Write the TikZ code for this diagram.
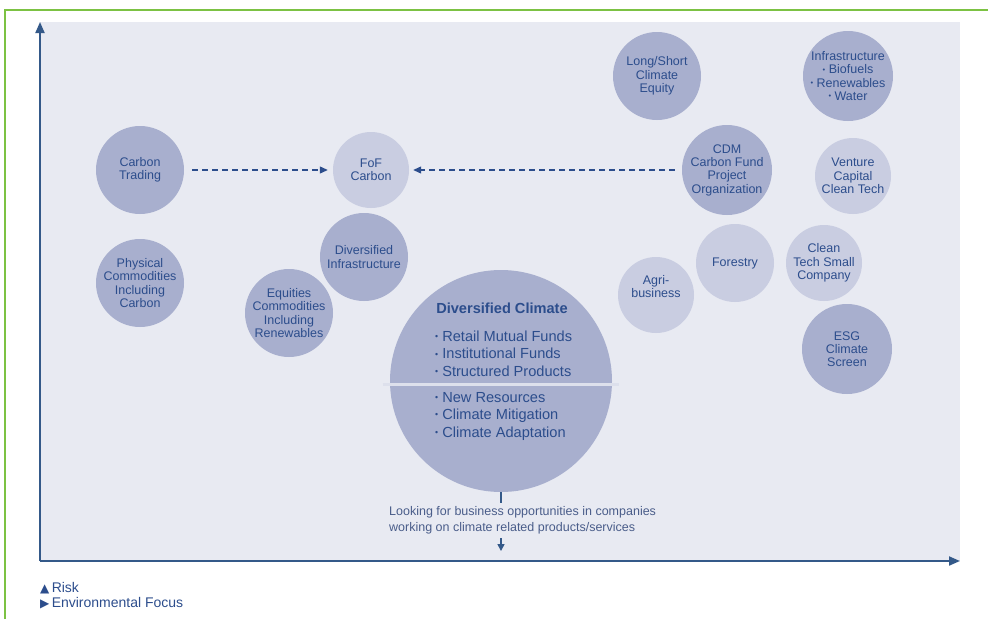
\documentclass[tikz,border=0pt]{standalone}
\usepackage{fontspec}
\setmainfont{Liberation Sans}
\newfontfamily\symfont{DejaVu Sans}
\usetikzlibrary{arrows.meta}

\definecolor{panel}{HTML}{E8EAF2}
\definecolor{deep}{HTML}{A8AFCE}
\definecolor{pale}{HTML}{C9CDE1}
\definecolor{ink}{HTML}{2C4D8C}
\definecolor{capt}{HTML}{4A5D8A}
\definecolor{axis}{HTML}{345989}
\definecolor{frame}{HTML}{7CC243}
\definecolor{split}{HTML}{DDE0EC}

% small raised bullet for the lists
\newcommand{\blt}{\raisebox{.22ex}{\scalebox{.6}{\textbullet}}\ }

\begin{document}
\begin{tikzpicture}[x=1pt,y=-1pt,
  bubble/.style={circle,inner sep=0pt,align=center,text=ink,
    font=\fontsize{12.5}{13.3}\selectfont},
  deepbub/.style={bubble,fill=deep},
  palebub/.style={bubble,fill=pale},
  link/.style={ink,line width=1.1pt,dash pattern=on 6pt off 4pt,
    -{Triangle[length=8pt,width=7pt]}},
  axisline/.style={axis,line width=2pt,-{Triangle[length=11pt,width=9pt]}}]
  \useasboundingbox (0,0) rectangle (988,619);

  % panel and frame
  \fill[panel] (40,22) rectangle (960,561);
  \draw[frame,line width=2.5pt] (5,619) -- (5,10) -- (988,10);

  % axes
  \coordinate (origin) at (40,561);
  \coordinate (risktop) at (40,22);
  \coordinate (focusend) at (960,561);
  \draw[axisline] (origin) -- (risktop);
  \draw[axisline] (origin) -- (focusend);

  % left group
  \node[deepbub,minimum size=88pt] (ct) at (140,170) {Carbon\\Trading};
  \node[deepbub,minimum size=88pt] (phys) at (140,283)
    {Physical\\Commodities\\Including\\Carbon};
  \node[palebub,minimum size=76pt] (fof) at (371,170) {FoF\\Carbon};
  \node[deepbub,minimum size=88pt] (dinfra) at (364,257)
    {Diversified\\Infrastructure};
  \node[deepbub,minimum size=88pt] (eq) at (289,313)
    {Equities\\Commodities\\Including\\Renewables};

  % right group
  \node[deepbub,minimum size=88pt] (ls) at (657,76)
    {Long/Short\\Climate\\Equity};
  \node[deepbub,minimum size=90pt] (infra) at (848,76)
    {Infrastructure\\\blt Biofuels\\\blt Renewables\\\blt Water};
  \node[deepbub,minimum size=90pt] (cdm) at (727,170)
    {CDM\\Carbon Fund\\Project\\Organization};
  \node[palebub,minimum size=76pt] (vc) at (853,176)
    {Venture\\Capital\\Clean Tech};
  \node[palebub,minimum size=78pt] (forest) at (735,263) {Forestry};
  \node[palebub,minimum size=76pt] (agri) at (656,295)
    {Agri-\\business\\[4pt]};
  \node[palebub,minimum size=76pt] (ctsc) at (824,263)
    {Clean\\Tech Small\\Company};
  \node[deepbub,minimum size=90pt] (esg) at (847,349)
    {ESG\\Climate\\Screen};

  % dashed links into FoF
  \draw[link,shorten <=8pt,shorten >=5pt] (ct) -- (fof);
  \draw[link,shorten <=7pt,shorten >=4pt] (cdm) -- (fof);

  % the big one
  \node[deepbub,minimum size=222pt] (clim) at (501,381) {};
  \draw[split,line width=3pt]
    ([xshift=-7pt,yshift=-3pt]clim.west)
    --
    ([xshift=7pt,yshift=-3pt]clim.east);
  \node[text=ink,font=\bfseries\fontsize{14.6}{17}\selectfont]
    (climtitle) at (502,308) {Diversified Climate};
  \node[anchor=west,inner sep=0pt,align=left,text=ink,
    font=\fontsize{14.6}{17.5}\selectfont] (climfunds) at (435,353.5)
    {\blt Retail Mutual Funds\\\blt Institutional Funds\\\blt Structured Products};
  \node[anchor=west,inner sep=0pt,align=left,text=ink,
    font=\fontsize{14.6}{17.5}\selectfont] (climthemes) at (435,416)
    {\blt New Resources\\\blt Climate Mitigation\\\blt Climate Adaptation};

  % note under it
  \node[anchor=west,inner sep=0pt,align=left,text=capt,
    font=\fontsize{12.5}{16}\selectfont] (look) at (389,520)
    {Looking for business opportunities in companies\\
     working on climate related products/services};
  \draw[axis,line width=1.5pt] (clim.south) -- ++(0,11);
  \draw[axis,line width=1.5pt,-{Triangle[length=7pt,width=7pt]}]
    ([yshift=-4pt]look.south -| clim.south) -- ++(0,13);

  % legend
  \node[anchor=west,inner sep=0pt,text=ink,font=\fontsize{14}{15}\selectfont]
    (risk) at (40,588) {{\symfont\fontsize{12}{12}\selectfont ▲}\,Risk};
  \node[anchor=west,inner sep=0pt,text=ink,font=\fontsize{14}{15}\selectfont]
    (envfocus) at (40,603)
    {{\symfont\fontsize{12}{12}\selectfont ▶}\,Environmental Focus};
\end{tikzpicture}
\end{document}
